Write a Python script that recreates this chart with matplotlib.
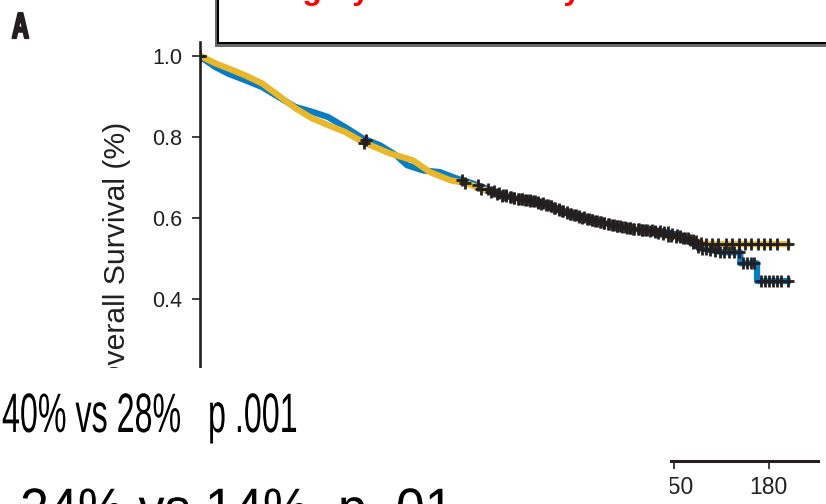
import numpy as np
import matplotlib
matplotlib.use("Agg")
import matplotlib.pyplot as plt
from matplotlib.patches import Rectangle
from matplotlib.patheffects import AbstractPathEffect
from matplotlib.transforms import Affine2D

plt.rcParams["font.family"] = ["Liberation Sans", "DejaVu Sans"]

# ---------------- data ----------------
t_blue = [0, 1.5, 4.7, 8.9, 14.2, 19.6, 24.7, 30.1, 35.4, 40.5, 45.9, 51.6, 57.0,
          62.0, 65.5, 70.6, 75.9, 81.3, 86.4, 94.9, 100.3, 105.4, 110.8, 116.1,
          121.2, 126.6, 132.0, 137.0, 143.0, 147.8, 151.0, 155.0, 158.0, 165.5,
          171.0, 171.0, 176.3, 176.3, 186.0]
s_blue = [1.0, 0.99, 0.973, 0.956, 0.94, 0.923, 0.899, 0.874, 0.862, 0.849, 0.824,
          0.796, 0.779, 0.755, 0.73, 0.717, 0.713, 0.697, 0.685, 0.66, 0.648, 0.643,
          0.631, 0.614, 0.602, 0.59, 0.58, 0.573, 0.569, 0.565, 0.558, 0.545, 0.525,
          0.515, 0.515, 0.488, 0.488, 0.444, 0.444]

t_yellow = [0, 4.7, 8.9, 14.2, 19.6, 24.7, 30.1, 35.4, 40.5, 45.9, 51.6, 60.1, 64.0,
            67.4, 72.8, 79.1, 84.5, 88.6, 94.9, 100.3, 105.4, 110.8, 116.1, 121.2,
            126.6, 137.0, 143.0, 147.8, 155.0, 158.0, 160.0, 186.0]
s_yellow = [1.0, 0.982, 0.969, 0.952, 0.932, 0.903, 0.871, 0.846, 0.829, 0.812, 0.787,
            0.759, 0.75, 0.742, 0.713, 0.693, 0.685, 0.673, 0.656, 0.648, 0.641, 0.629,
            0.612, 0.6, 0.589, 0.573, 0.567, 0.556, 0.549, 0.54, 0.535, 0.535]

cens_blue = [0, 52.5, 83, 88, 91, 93, 94.5, 96, 97, 98.5, 99.5, 101, 102, 103.5, 104.5,
             106, 107, 108.5, 110, 111, 112.5, 113.5, 115, 116, 117.5, 119, 120, 121.5,
             123, 124, 125.5, 127, 128, 129.5, 131, 132, 133.5, 135, 136, 137.5, 139,
             140, 141.5, 143, 144, 145.5, 147, 148, 149.5, 151, 152, 153.5, 155, 156,
             157.5, 159, 160, 161.5, 163, 164.5, 166, 167.5, 169, 170.5, 172, 173,
             174.5, 175.5, 177.5, 178.8, 180, 181.3, 182.6, 183.9, 186]
cens_yellow = [0, 52, 84, 89, 92, 94, 95.5, 97, 98, 99.5, 100.5, 102, 103, 104.5, 105.5,
               107, 108, 109.5, 111, 112, 113.5, 114.5, 116, 117, 118.5, 120, 121, 122.5,
               124, 125, 126.5, 128, 129, 130.5, 132, 133, 134.5, 136, 137, 138.5, 140,
               141, 142.5, 144, 145, 146.5, 148, 149, 150.5, 152, 153, 154.5, 156, 157,
               158.5, 160, 162, 164, 166.5, 168.5, 170.5, 172.5, 174.5, 176.5, 178.5,
               180.5, 182.5, 186]

x_ticks = [0, 30, 60, 90, 120, 150, 180]
x_shown = [150, 180]          # the others sit under the white text panel
y_ticks = [0.0, 0.2, 0.4, 0.6, 0.8, 1.0]
y_label = "Overall Survival (%)"
panel_label = "A"
title_text = "Surgery Cohort Study"
stat_line1 = "40% vs 28%   p .001"
stat_line2 = "24% vs 14%  p .01"

BLUE = "#0a7cc2"
YELLOW = "#e9b82a"
DARK = "#231f20"

# ---------------- figure ----------------
W, H = 826, 504
fig = plt.figure(figsize=(W / 100, H / 100), dpi=100)
fig.patch.set_facecolor("white")


def fx(px):
    return px / W


def fy(py):
    return 1 - py / H


ax = fig.add_axes([fx(200), fy(461), fx(818) - fx(200), fy(42) - fy(461)])
ax.plot(t_blue, s_blue, color=BLUE, lw=4.5, zorder=2)
ax.plot(t_yellow, s_yellow, color=YELLOW, lw=4.5, zorder=3)
ax.plot(cens_blue, np.interp(cens_blue, t_blue, s_blue), ls="none", marker="+",
        ms=9, mew=2.0, color=DARK, zorder=4)
ax.plot(cens_yellow, np.interp(cens_yellow, t_yellow, s_yellow), ls="none", marker="+",
        ms=9, mew=2.0, color=DARK, zorder=4)

ax.set_xlim(0, 195.6)
ax.set_ylim(0, 1.034)
for side in ("top", "right"):
    ax.spines[side].set_visible(False)
ax.spines["left"].set_linewidth(1.9)
ax.spines["left"].set_color(DARK)
ax.spines["bottom"].set_linewidth(2.2)
ax.spines["bottom"].set_color(DARK)
ax.set_xticks(x_ticks)
ax.set_xticklabels([str(v) if v in x_shown else "" for v in x_ticks])
ax.set_yticks(y_ticks)
ax.set_yticklabels([f"{v:.1f}" for v in y_ticks])
ax.tick_params(axis="y", length=5.8, width=1.2, color=DARK, pad=7.0,
               labelsize=15.5, labelcolor=DARK)
ax.tick_params(axis="x", length=5.8, width=1.2, color=DARK, pad=5,
               labelsize=16.5, labelcolor=DARK)

fig.text(fx(117), fy(255), y_label, rotation=90, ha="center", va="center",
         fontsize=21.7, color=DARK)

# top box with shadow
fig.add_artist(Rectangle((fx(215), fy(47)), 1.0, 0.2, transform=fig.transFigure,
                         facecolor="#6a6a6a", edgecolor="none", zorder=5))
fig.add_artist(Rectangle((fx(218), fy(43)), 1.0, 0.2, transform=fig.transFigure,
                         facecolor="white", edgecolor="black", lw=1.5, zorder=6))
fig.text(fx(249), fy(-1), title_text, color="red", fontsize=23, fontweight="bold",
         va="baseline", ha="left", zorder=7)

# white cover with statistics text
fig.add_artist(Rectangle((0, 0), fx(670), fy(368), transform=fig.transFigure,
                         facecolor="white", edgecolor="none", zorder=8))
t1 = fig.text(fx(2), fy(432), stat_line1, fontsize=40, color="black",
              va="baseline", ha="left", zorder=9)
t2 = fig.text(fx(20), fy(527), stat_line2, fontsize=40, color="black",
              va="baseline", ha="left", zorder=9)
tA = fig.text(fx(12), fy(38), panel_label, fontsize=26, fontweight="bold",
              color=DARK, va="baseline", ha="left", zorder=9)


class HSqueeze(AbstractPathEffect):
    """Squeeze text horizontally about x0 (display px), optionally thickening it."""

    def __init__(self, sx, x0, stroke=0.0):
        super().__init__()
        self.sx = sx
        self.x0 = x0
        self.stroke = stroke

    def draw_path(self, renderer, gc, tpath, affine, rgbFace=None):
        tr = affine + Affine2D().translate(-self.x0, 0).scale(self.sx, 1).translate(self.x0, 0)
        if self.stroke > 0 and rgbFace is not None:
            gc0 = renderer.new_gc()
            gc0.copy_properties(gc)
            gc0.set_linewidth(self.stroke)
            gc0.set_foreground(rgbFace)
            gc0.set_joinstyle("round")
            renderer.draw_path(gc0, tpath, tr, rgbFace)
            gc0.restore()
        else:
            renderer.draw_path(gc, tpath, tr, rgbFace)


fig.canvas.draw()
rend = fig.canvas.get_renderer()
for txt, target, x0, stroke in ((t1, 295, 2, 0.0), (t2, 433, 20, 0.0), (tA, 17, 12, 1.6)):
    w = txt.get_window_extent(rend).width
    txt.set_path_effects([HSqueeze(target / w, x0, stroke)])

fig.savefig("out.png", dpi=100)
